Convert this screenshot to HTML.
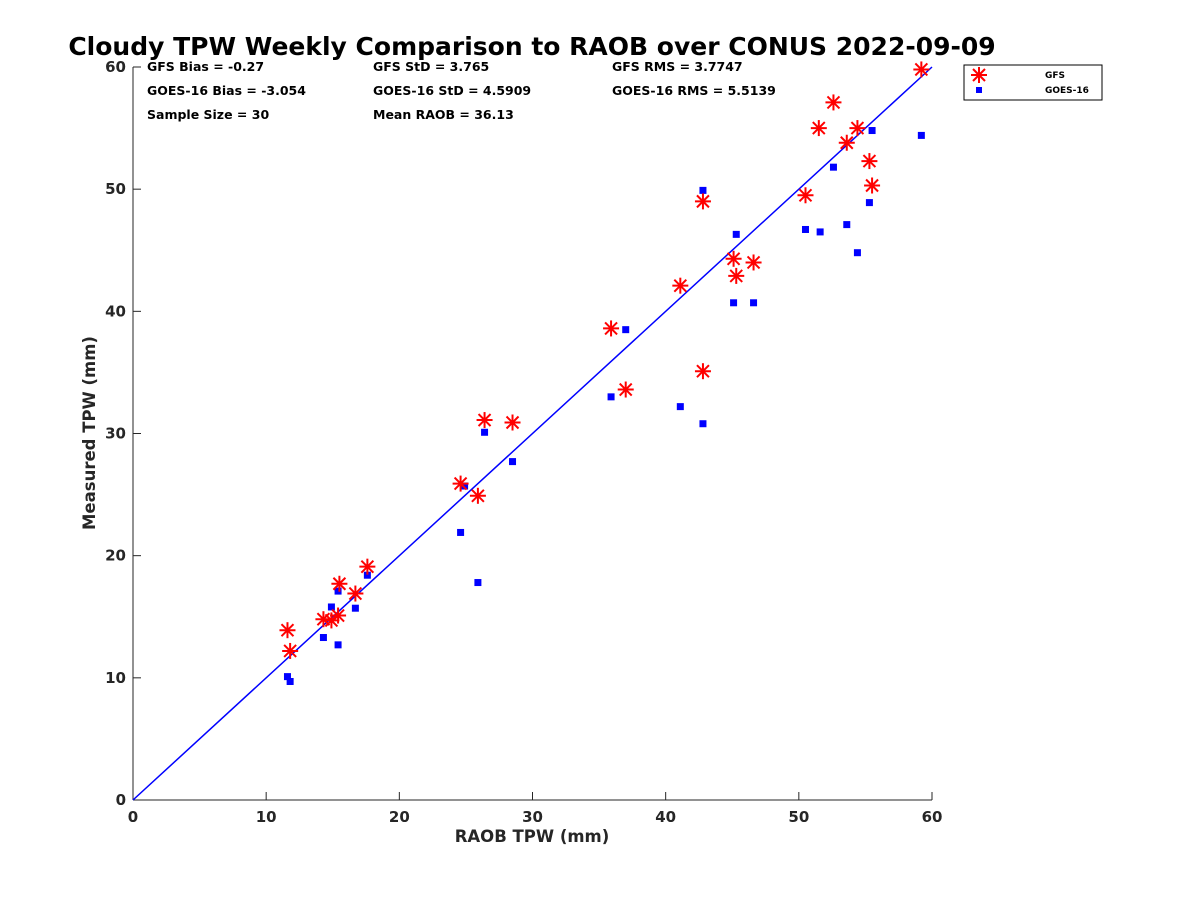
<!DOCTYPE html>
<html><head><meta charset="utf-8"><style>
body{margin:0;background:#fff;}
svg{display:block;font-family:"DejaVu Sans","Liberation Sans",sans-serif;}
</style></head><body>
<svg id="chart" width="1200" height="900" viewBox="0 0 1200 900">
<rect width="1200" height="900" fill="#fff"/>
<text x="532" y="55" text-anchor="middle" font-size="25" font-weight="bold" fill="#000">Cloudy TPW Weekly Comparison to RAOB over CONUS 2022-09-09</text>
<g id="stats" font-size="12.5" font-weight="bold" fill="#000">
<text x="147" y="71">GFS Bias = -0.27</text>
<text x="147" y="95">GOES-16 Bias = -3.054</text>
<text x="147" y="119">Sample Size = 30</text>
<text x="373" y="71">GFS StD = 3.765</text>
<text x="373" y="95">GOES-16 StD = 4.5909</text>
<text x="373" y="119">Mean RAOB = 36.13</text>
<text x="612" y="71">GFS RMS = 3.7747</text>
<text x="612" y="95">GOES-16 RMS = 5.5139</text>
</g>
<g id="axes"></g>
<g id="marks"></g>
<g>
<rect x="964" y="65" width="138" height="35" fill="#fff" stroke="#000" stroke-width="1"/>
<g>
<g stroke="#f00" stroke-width="2"><line x1="971" y1="75" x2="987" y2="75"/><line x1="979" y1="67" x2="979" y2="83"/><line x1="973" y1="69" x2="985" y2="81"/><line x1="985" y1="69" x2="973" y2="81"/></g>
<text x="1045" y="78" font-size="9" font-weight="bold">GFS</text></g>
<g>
<rect x="976" y="87" width="6" height="6" fill="#00f"/>
<text x="1045" y="93" font-size="9" font-weight="bold">GOES-16</text></g>
</g>
</svg>
<script>
const raobGFS=[11.6,11.8,14.3,14.9,15.4,15.5,16.7,17.6,24.6,25.9,26.4,28.5,35.9,37.0,41.1,42.8,42.8,45.1,45.3,46.6,50.5,51.5,52.6,53.6,54.4,55.3,55.5,59.2];
const gfsTPW=[13.9,12.2,14.8,14.7,15.1,17.7,16.9,19.1,25.9,24.9,31.1,30.9,38.6,33.6,42.1,49.0,35.1,44.3,42.9,44.0,49.5,55.0,57.1,53.8,55.0,52.3,50.3,59.8];
const raobGOES=[11.6,11.8,14.3,14.9,15.4,15.4,16.7,17.6,24.6,24.9,25.9,26.4,28.5,35.9,37.0,41.1,42.8,42.8,45.1,45.3,46.6,50.5,51.6,52.6,53.6,54.4,55.3,55.5,59.2];
const goesTPW=[10.1,9.7,13.3,15.8,17.1,12.7,15.7,18.4,21.9,25.7,17.8,30.1,27.7,33.0,38.5,32.2,49.9,30.8,40.7,46.3,40.7,46.7,46.5,51.8,47.1,44.8,48.9,54.8,54.4];
const xTicks=[0,10,20,30,40,50,60];
const yTicks=[0,10,20,30,40,50,60];
const X0=133,X1=932,Y0=800,Y1=67;
const sx=v=>X0+(v-0)/60*(X1-X0);
const sy=v=>Y0-(v-0)/60*(Y0-Y1);
const NS="http://www.w3.org/2000/svg";
function mk(t,a,p){const e=document.createElementNS(NS,t);for(const k in a)e.setAttribute(k,a[k]);p.appendChild(e);return e;}
const axes=document.getElementById('axes'),marks=document.getElementById('marks');
const xa=mk('line',{x1:X0,y1:Y0,x2:X1,y2:Y0,stroke:'#262626','stroke-width':1},axes);


const ya=mk('line',{x1:X0,y1:Y0,x2:X0,y2:Y1,stroke:'#262626','stroke-width':1},axes);


xTicks.forEach(v=>{
 mk('line',{x1:sx(v),y1:Y0,x2:sx(v),y2:Y0-8,stroke:'#262626'},axes);
 const t=mk('text',{x:sx(v),y:Y0+22,'text-anchor':'middle','font-size':15,'font-weight':'bold',fill:'#262626'},axes);
 t.textContent=v;
 
 
});
yTicks.forEach(v=>{
 mk('line',{x1:X0,y1:sy(v),x2:X0+8,y2:sy(v),stroke:'#262626'},axes);
 const t=mk('text',{x:X0-7,y:sy(v)+5,'text-anchor':'end','font-size':15,'font-weight':'bold',fill:'#262626'},axes);
 t.textContent=v;
 
 
});
const xt=mk('text',{x:532,y:842,'text-anchor':'middle','font-size':16.5,'font-weight':'bold',fill:'#262626'},axes);
xt.textContent='RAOB TPW (mm)';


const yt=mk('text',{x:95,y:433,'text-anchor':'middle','font-size':16.5,'font-weight':'bold',fill:'#262626',transform:'rotate(-90 95 433)'},axes);
yt.textContent='Measured TPW (mm)';


const ol=mk('line',{x1:sx(0),y1:sy(0),x2:sx(60),y2:sy(60),stroke:'#00f','stroke-width':1.5},marks);


raobGOES.forEach((x,i)=>{
 const r=mk('rect',{x:sx(x)-3.5,y:sy(goesTPW[i])-3.5,width:7,height:7,fill:'#00f'},marks);
 
 
});
raobGFS.forEach((x,i)=>{
 const cx=sx(x),cy=sy(gfsTPW[i]);
 const g=mk('g',{stroke:'#f00','stroke-width':2},marks);
 
 
 mk('line',{x1:cx-8,y1:cy,x2:cx+8,y2:cy},g);
 mk('line',{x1:cx,y1:cy-8,x2:cx,y2:cy+8},g);
 mk('line',{x1:cx-6,y1:cy-6,x2:cx+6,y2:cy+6},g);
 mk('line',{x1:cx+6,y1:cy-6,x2:cx-6,y2:cy+6},g);
});
</script>
</body></html>
